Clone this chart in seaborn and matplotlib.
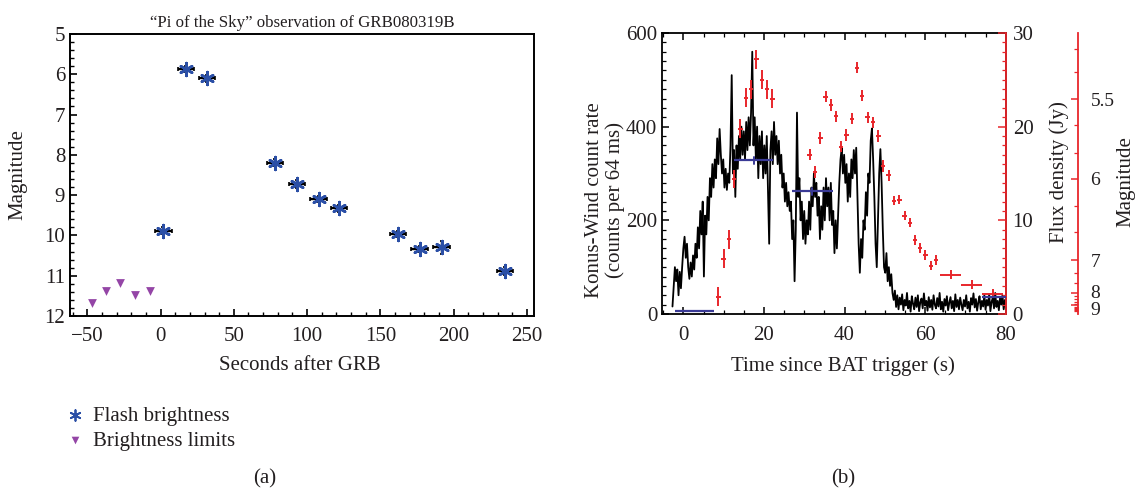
import numpy as np
import pandas as pd
import matplotlib
matplotlib.use("Agg")
import matplotlib.pyplot as plt
import matplotlib.transforms as mtransforms
import seaborn as sns
from matplotlib.ticker import MultipleLocator, FixedLocator, NullFormatter

# ---------------- data: panel (a) ----------------
flash_t = [2, 17.5, 31.8, 78, 93, 107.8, 122, 162.3, 176.7, 191.7, 235.3]
flash_mag = [9.88, 5.87, 6.10, 8.19, 8.73, 9.10, 9.33, 9.97, 10.34, 10.29, 10.88]
flash_terr = [5.5] * 11
flash_merr = [0.08, 0.08, 0.08, 0.08, 0.1, 0.08, 0.08, 0.08, 0.08, 0.16, 0.1]
limit_t = [-47, -37, -27.5, -17.5, -7.3]
limit_mag = [11.68, 11.38, 11.18, 11.48, 11.38]

# ---------------- data: panel (b) ----------------
kw_t0 = -2.7
kw_step = 0.3
kw_counts = [
    16, 60, 100, 70, 95, 40, 90, 55, 100, 140,
    165, 120, 150, 100, 75, 110, 80, 125, 95, 150,
    120, 185, 140, 220, 170, 240, 80, 210, 170, 250,
    200, 290, 250, 320, 270, 330, 290, 375, 320, 395,
    340, 300, 330, 270, 310, 265, 300, 280, 360, 510,
    300, 350, 250, 360, 310, 380, 330, 400, 340, 390,
    330, 410, 350, 420, 360, 430, 560, 360, 420, 330,
    400, 290, 380, 320, 390, 290, 360, 300, 380, 270,
    150, 350, 390, 320, 410, 340, 380, 320, 370, 300,
    340, 270, 300, 240, 280, 230, 260, 220, 240, 160,
    200, 70, 180, 430, 250, 290, 200, 240, 160, 220,
    150, 200, 170, 240, 180, 270, 230, 300, 250, 280,
    210, 250, 160, 230, 180, 270, 200, 290, 230, 270,
    200, 280, 190, 220, 130, 200, 140, 210, 280, 330,
    355, 300, 340, 280, 320, 240, 300, 250, 330, 290,
    350, 300, 355, 250, 150, 88, 160, 120, 200, 180,
    260, 210, 300, 280, 370, 396, 330, 250, 150, 100,
    200, 300, 352, 280, 180, 100, 88, 130, 70, 100,
    60, 85, 45, 30, 50, 15, 40, 10, 35, 20,
    42, 8, 30, 18, 45, 12, 28, 5, 38, 22,
    10, 35, 15, 40, 6, 25, 33, 12, 44, 18,
    28, 7, 36, 14, 30, 9, 40, 20, 12, 34,
    16, 45, 10, 26, 5, 32, 18, 38, 8, 24,
    36, 12, 28, 6, 42, 15, 30, 10, 35, 20,
    8, 30, 16, 40, 12, 26, 5, 34, 20, 44,
    14, 32, 7, 25, 38, 10, 28, 16, 40, 9,
    30, 18, 42, 6, 26, 35, 12, 45, 15, 28,
    8, 36, 20, 40, 10, 30, 15, 25, 20, 20,
]

flux_t = [8.7, 10.0, 11.35, 12.6, 14.15, 15.5, 16.8, 18.1, 19.45, 20.8,
          22.1, 31.35, 32.7, 34.0, 35.3, 36.65, 37.95, 39.1, 40.45, 41.8,
          43.1, 44.4, 45.75, 47.1, 48.4, 49.6, 50.95, 52.3, 53.6, 54.9,
          56.2, 57.5, 58.7, 60.05, 61.4, 62.7, 66.4, 71.55, 76.8]
flux_jy = [1.85, 5.9, 7.97, 14.4, 19.8, 23.1, 24.0, 27.2, 25.0, 24.0,
           23.0, 17.0, 15.15, 18.8, 23.2, 22.3, 21.1, 17.85, 19.1, 20.85,
           26.3, 23.3, 21.0, 20.45, 19.0, 15.8, 14.8, 12.1, 12.2, 10.5,
           9.75, 7.9, 7.05, 6.3, 5.15, 5.75, 4.2, 3.13, 2.17]
flux_terr = [0.55] * 36 + [2.6, 2.6, 2.6]
flux_ferr = [1.0] * 11 + [0.6] * 16 + [0.5] * 12

pots_t_lo = [-2.1, 12.6, 27.0, 74.0]
pots_t_hi = [7.6, 22.3, 37.1, 80.0]
pots_t_mid = [None, 17.5, 32.0, None]
pots_jy = [0.35, 16.4, 13.1, 1.85]

mag_ticks = [5.5, 6, 7, 8, 9]
mag_minor = [5.27, 5.37, 5.64, 5.81, 6.25, 6.55, 7.3, 7.61, 8.2, 8.4, 8.6, 8.8,
             9.2, 9.4, 9.6, 9.8, 10.0]
zero_point_jy = 3631.0

# ---------------- style ----------------
sns.set_theme(style="ticks")
plt.rcParams["font.family"] = ["Liberation Serif", "DejaVu Serif"]
plt.rcParams["axes.unicode_minus"] = True
FS = 15
TXT = "#231f20"
BLUE = "#2b4fa6"
PURPLE = "#9445a6"
RED = "#e8262b"
NAVY = "#3a3a96"

fig = plt.figure(figsize=(11.4, 4.91), dpi=100)

# ---------------- panel (a) ----------------
ax1 = fig.add_axes([0.0614, 0.3564, 0.4070, 0.5744])
ax1.errorbar(flash_t, flash_mag, xerr=flash_terr, yerr=flash_merr, fmt="none",
             ecolor="black", elinewidth=1.7, capsize=1.5, capthick=1.2, zorder=2)
df_f = pd.DataFrame({"t": flash_t, "m": flash_mag})
sns.scatterplot(data=df_f, x="t", y="m", ax=ax1, marker=(6, 2, 0), s=85,
                color=BLUE, linewidth=1.9, edgecolor=BLUE, zorder=3,
                legend=False)
df_l = pd.DataFrame({"t": limit_t, "m": limit_mag})
sns.scatterplot(data=df_l, x="t", y="m", ax=ax1, marker="v", s=40,
                color=PURPLE, edgecolor=PURPLE, linewidth=0, zorder=3, legend=False)
ax1.set_xlim(-61.8, 254.8)
ax1.set_ylim(12, 5)
ax1.xaxis.set_major_locator(MultipleLocator(50))
ax1.xaxis.set_minor_locator(MultipleLocator(10))
ax1.yaxis.set_major_locator(MultipleLocator(1))
ax1.yaxis.set_minor_locator(MultipleLocator(0.2))
ax1.tick_params(which="both", direction="in", top=False, right=False,
                labelsize=FS, colors="black", labelcolor=TXT)
ax1.tick_params(axis="x", which="major", pad=8)
ax1.tick_params(which="major", length=5, width=1.2)
ax1.tick_params(which="minor", length=3, width=1.0)
for s in ax1.spines.values():
    s.set_linewidth(1.4)
    s.set_color("black")
ax1.set_xlabel("")
ax1.set_ylabel("")
ax1.set_title("\u201cPi of the Sky\u201d observation of GRB080319B", fontsize=12.2,
              color=TXT, pad=5)

fig.text(300 / 1140, 1 - 366 / 491, "Seconds after GRB", ha="center", va="center",
         fontsize=FS, color=TXT)
fig.text(18 / 1140, 1 - 175 / 491, "Magnitude", ha="center", va="center",
         rotation=90, fontsize=FS, color=TXT)

# legend
h1 = ax1.scatter([], [], marker=(6, 2, 0), s=60, color=BLUE, linewidth=1.3)
h2 = ax1.scatter([], [], marker="v", s=30, color=PURPLE, linewidth=0)
fig.legend([h1, h2], ["Flash brightness", "Brightness limits"],
           loc="upper left", bbox_to_anchor=(58 / 1140, 1 - 398 / 491),
           frameon=False, fontsize=FS, handlelength=0.8, handletextpad=0.5,
           labelspacing=0.25, borderaxespad=0, labelcolor=TXT)

fig.text(265 / 1140, 1 - 479 / 491, "(a)", ha="center", va="center",
         fontsize=FS, color=TXT)
fig.text(843 / 1140, 1 - 479 / 491, "(b)", ha="center", va="center",
         fontsize=FS, color=TXT)

# ---------------- panel (b) ----------------
ax2 = fig.add_axes([0.5807, 0.3605, 0.3015, 0.5723])
kw_t = kw_t0 + kw_step * np.arange(len(kw_counts))
df_kw = pd.DataFrame({"t": kw_t, "c": kw_counts})
sns.lineplot(data=df_kw, x="t", y="c", ax=ax2, color="black", linewidth=1.3,
             estimator=None, sort=False, zorder=2)
ax2.set_xlim(-5.3, 80)
ax2.set_ylim(0, 600)
ax2.xaxis.set_major_locator(MultipleLocator(20))
ax2.xaxis.set_minor_locator(MultipleLocator(5))
ax2.yaxis.set_major_locator(MultipleLocator(200))
ax2.yaxis.set_minor_locator(MultipleLocator(20))
ax2.tick_params(which="both", direction="in", top=True, right=False,
                labelsize=FS, colors="black", labelcolor=TXT)
ax2.tick_params(axis="x", which="major", pad=9)
ax2.tick_params(which="major", length=5, width=1.1)
ax2.tick_params(which="minor", length=3, width=0.9)
for s in ax2.spines.values():
    s.set_linewidth(1.3)
    s.set_color("black")
ax2.set_xlabel("")
ax2.set_ylabel("")

fig.text(843 / 1140, 1 - 366 / 491, "Time since BAT trigger (s)", ha="center",
         va="center", fontsize=FS, color=TXT)
fig.text(605 / 1140, 1 - 200 / 491, "Konus-Wind count rate\n(counts per 64 ms)",
         ha="center", va="center", rotation=90, fontsize=FS, color=TXT,
         multialignment="center", linespacing=1.1)

# flux axis
axf = ax2.twinx()
axf.set_ylim(0, 30)
axf.errorbar(flux_t, flux_jy, xerr=flux_terr, yerr=flux_ferr, fmt="none",
             ecolor=RED, elinewidth=1.4, capsize=0, zorder=3)
for lo, hi, mid, f in zip(pots_t_lo, pots_t_hi, pots_t_mid, pots_jy):
    axf.plot([lo, hi], [f, f], color=NAVY, lw=1.6, zorder=4, solid_capstyle="butt")
    if mid is not None:
        axf.plot([mid, mid], [f - 0.35, f + 0.35], color=NAVY, lw=1.4, zorder=4)
axf.set_xlim(-5.3, 80)
axf.yaxis.set_major_locator(MultipleLocator(10))
axf.yaxis.set_minor_locator(MultipleLocator(1))
axf.tick_params(which="both", direction="in", colors=RED, labelcolor=TXT,
                labelsize=FS)
axf.tick_params(which="major", length=6, width=1.1, pad=5)
axf.tick_params(which="minor", length=3, width=0.9)
axf.spines["right"].set_color(RED)
axf.spines["right"].set_linewidth(1.3)
for k in ["left", "top", "bottom"]:
    axf.spines[k].set_visible(False)
fig.text(1059 / 1140, 1 - 172 / 491, "Flux density (Jy)", ha="center",
         va="center", rotation=90, fontsize=FS, color=TXT)

# magnitude axis
axm = ax2.twinx()
axm.set_ylim(0, 30)
axm.spines["right"].set_position(("axes", 1.21))
axm.spines["right"].set_color(RED)
axm.spines["right"].set_linewidth(1.3)
for k in ["left", "top", "bottom"]:
    axm.spines[k].set_visible(False)
axm.yaxis.set_major_locator(FixedLocator([zero_point_jy * 10 ** (-0.4 * m) for m in mag_ticks]))
axm.set_yticklabels([f"{m:g}" for m in mag_ticks])
axm.yaxis.set_minor_locator(FixedLocator([zero_point_jy * 10 ** (-0.4 * m) for m in mag_minor]))
axm.yaxis.set_minor_formatter(NullFormatter())
axm.tick_params(which="both", direction="in", colors=RED, labelcolor=TXT,
                labelsize=14)
axm.tick_params(which="major", length=5, width=1.1, pad=9)
axm.tick_params(which="minor", length=3, width=0.9)
# nudge the two crowded labels apart
for lab, dy in zip(axm.get_yticklabels(), [0, 0, 0, 1.5, -3.0]):
    lab.set_transform(lab.get_transform() +
                      mtransforms.ScaledTranslation(0, dy / 100, fig.dpi_scale_trans))
fig.text(1126 / 1140, 1 - 182 / 491, "Magnitude", ha="center", va="center",
         rotation=90, fontsize=FS, color=TXT)

fig.savefig("out.png", dpi=100)
